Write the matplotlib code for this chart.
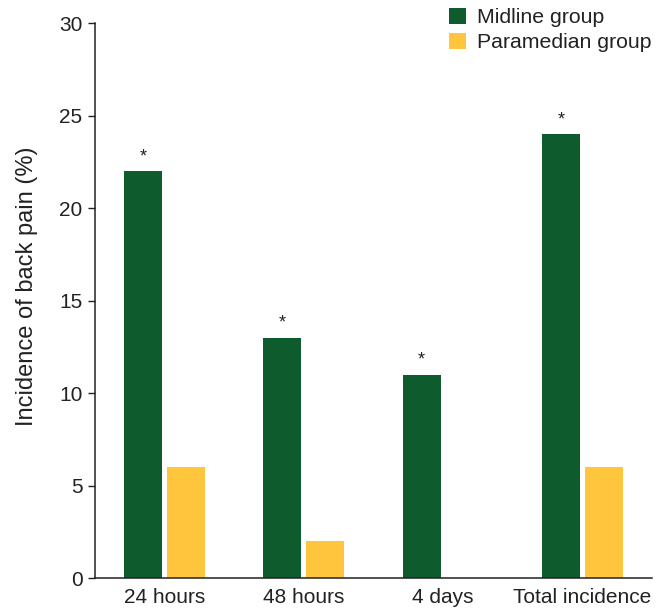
import matplotlib
matplotlib.use("Agg")
import matplotlib.pyplot as plt
import numpy as np

plt.rcParams['font.family'] = ['Liberation Sans', 'DejaVu Sans']

categories = ["24 hours", "48 hours", "4 days", "Total incidence"]
midline = [22, 13, 11, 24]
paramedian = [6, 2, 0, 6]
significant = [True, True, True, True]
series_names = ["Midline group", "Paramedian group"]

green = "#0E5B2E"
yellow = "#FFC53D"
text_col = "#222222"

fig = plt.figure(figsize=(6.64, 6.09), dpi=100)
ax = fig.add_axes([0.1431, 0.0509, 0.982 - 0.1431, 0.9622 - 0.0509])

x = np.arange(len(categories))
w = 0.273
off = 0.155
ax.bar(x - off, midline, width=w, color=green, label=series_names[0])
ax.bar(x + off, paramedian, width=w, color=yellow, label=series_names[1])

for xi, v, s in zip(x, midline, significant):
    if s:
        ax.annotate("*", (xi - off, v), xytext=(0, 4), textcoords="offset points",
                    ha="center", va="bottom", fontsize=13, color=text_col)

ax.set_xlim(-0.5, 3.5)
ax.set_ylim(0, 30)
ax.set_yticks(np.arange(0, 31, 5))
ax.set_xticks(x)
ax.set_xticklabels(categories)
ax.tick_params(axis="x", length=0, pad=7, labelsize=15, labelcolor=text_col)
ax.tick_params(axis="y", length=5, width=1.0, pad=4, labelsize=15,
               labelcolor=text_col, color=text_col)
ax.set_ylabel("Incidence of back pain (%)", fontsize=17, color=text_col)
ax.yaxis.set_label_coords(-0.102, 0.526)

for side in ("top", "right"):
    ax.spines[side].set_visible(False)
for side in ("left", "bottom"):
    ax.spines[side].set_linewidth(1.1)
    ax.spines[side].set_color(text_col)

fig.legend(loc="upper right", bbox_to_anchor=(1.001, 1.008), frameon=False,
           fontsize=15.3, handlelength=0.8, handleheight=0.8, handletextpad=0.55,
           labelspacing=0.25, borderaxespad=0.2, labelcolor=text_col)

fig.savefig("out.png", dpi=100)
